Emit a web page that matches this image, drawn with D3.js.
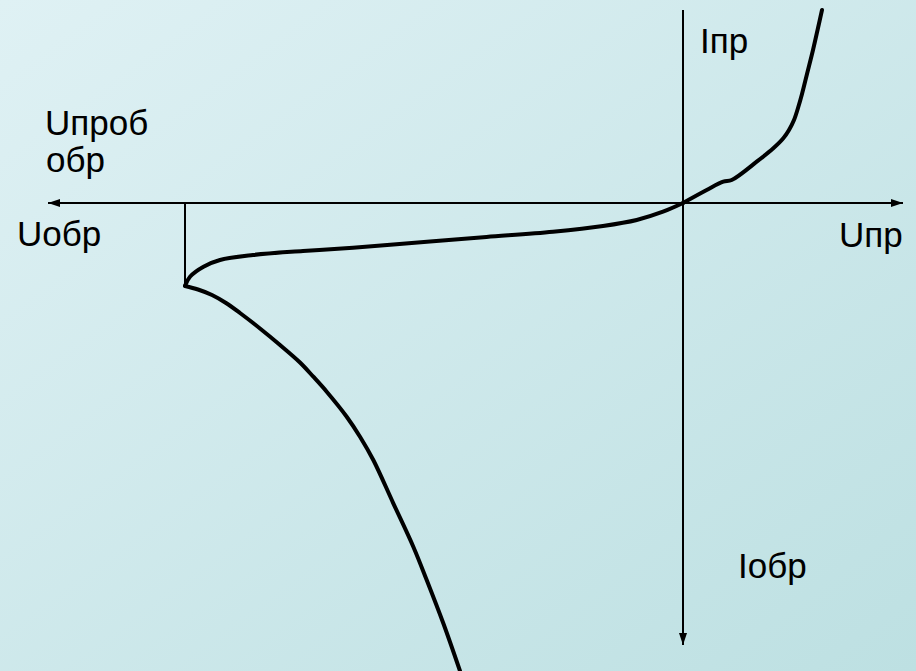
<!DOCTYPE html>
<html>
<head>
<meta charset="utf-8">
<script src="https://cdn.jsdelivr.net/npm/d3@7"></script>
<style>
    html, body { margin: 0; padding: 0; overflow: hidden; }
    #chart { width: 916px; height: 671px; }
    text { font-family: "Liberation Sans", Arial, sans-serif; fill: #000; }
</style>
</head>
<body>
<div id="chart"></div>
<script>

// axis extents (U in V, I in mA) - schematic diode characteristic
const uRange = [-127, 44];
const iRange = [-221, 96.5];
const breakdownU = -99.6;
const breakdownI = -41.5;

// forward branch, from origin up
const forwardBranch = [
    [0, 0], [4.74, 6.5], [8.06, 10.65], [9.74, 11.5], [14.74, 20.65], [18.06, 27.35],
    [20.06, 32.35], [21.2, 36.5], [22.2, 41.5], [23, 47.5], [23.8, 54.5],
    [24.8, 64.5], [26, 76.5], [27, 87.5], [27.8, 96.5]
];

// reverse branch, from breakdown point to origin
const reverseBranch = [
    [-99.6, -41.35], [-98.6, -36.85], [-95.9, -31.85], [-92.6, -28.5], [-86, -26],
    [-76, -24], [-66, -22.35], [-50.6, -19.25], [-39.3, -17], [-26, -14.35],
    [-16, -11.5], [-9.26, -8.5], [-4, -4.35], [0, 0]
];

// breakdown branch, from breakdown point down
const breakdownBranch = [
    [-99.6, -41.5], [-97, -43.25], [-94.2, -46], [-91.4, -50], [-88.6, -55],
    [-84.6, -62.75], [-80.6, -71], [-76.6, -79.75], [-73.94, -86.85],
    [-71.26, -94.35], [-67.26, -106.85], [-64.6, -116.85], [-61.94, -128.5],
    [-57.94, -150.15], [-53.94, -171.85], [-51.26, -188.5], [-47.94, -210.15],
    [-44.6, -234], [-43.8, -240]
];

const labelTexts = ["Iпр", "Uпроб", "обр", "Uобр", "Uпр", "Iобр"];

const width = 916, height = 671;

const svg = d3.select("#chart")
    .append("svg")
    .attr("width", width)
    .attr("height", height);

const defs = svg.append("defs");
const bg = defs.append("linearGradient")
    .attr("id", "bg")
    .attr("x1", "0%").attr("y1", "0%")
    .attr("x2", "100%").attr("y2", "100%");
bg.append("stop").attr("offset", "0%").attr("stop-color", "#dff1f4");
bg.append("stop").attr("offset", "100%").attr("stop-color", "#bde0e2");

svg.append("rect")
    .attr("width", width)
    .attr("height", height)
    .attr("fill", "url(#bg)");

const x = d3.scaleLinear().domain(uRange).range([48, 903]);
const y = d3.scaleLinear().domain(iRange).range([645, 10]);

// arrow head
defs.append("marker")
    .attr("id", "arrow")
    .attr("viewBox", "0 0 12 8")
    .attr("refX", 12)
    .attr("refY", 4)
    .attr("markerWidth", 12)
    .attr("markerHeight", 8)
    .attr("markerUnits", "userSpaceOnUse")
    .attr("orient", "auto-start-reverse")
    .append("path")
    .attr("d", "M0,0 L12,4 L0,8 Z")
    .attr("fill", "#000");

// horizontal axis, arrows both ends
svg.append("line")
    .attr("x1", x(uRange[0])).attr("x2", x(uRange[1]))
    .attr("y1", y(0)).attr("y2", y(0))
    .attr("stroke", "#000")
    .attr("stroke-width", 2)
    .attr("marker-start", "url(#arrow)")
    .attr("marker-end", "url(#arrow)");

// vertical axis, arrow at bottom
svg.append("line")
    .attr("x1", x(0)).attr("x2", x(0))
    .attr("y1", y(iRange[1])).attr("y2", y(iRange[0]))
    .attr("stroke", "#000")
    .attr("stroke-width", 2)
    .attr("marker-end", "url(#arrow)");

// breakdown voltage marker
svg.append("line")
    .attr("x1", x(breakdownU)).attr("x2", x(breakdownU))
    .attr("y1", y(0)).attr("y2", y(breakdownI))
    .attr("stroke", "#000")
    .attr("stroke-width", 2);

const line = d3.line()
    .x(d => x(d[0]))
    .y(d => y(d[1]))
    .curve(d3.curveCatmullRom.alpha(0.5));

svg.selectAll(".branch")
    .data([breakdownBranch, reverseBranch, forwardBranch])
    .enter()
    .append("path")
    .attr("class", "branch")
    .attr("d", line)
    .attr("fill", "none")
    .attr("stroke", "#000")
    .attr("stroke-width", 4)
    .attr("stroke-linejoin", "round")
    .attr("stroke-linecap", "round");

// labels
const labelPos = [
    [700, 53], [45, 135], [46, 172], [17, 246], [839, 247], [738, 578]
];
svg.selectAll(".lbl")
    .data(labelTexts)
    .enter()
    .append("text")
    .attr("class", "lbl")
    .attr("x", (d, i) => labelPos[i][0])
    .attr("y", (d, i) => labelPos[i][1])
    .style("font-size", "35px")
    .text(d => d);

</script>
</body>
</html>
